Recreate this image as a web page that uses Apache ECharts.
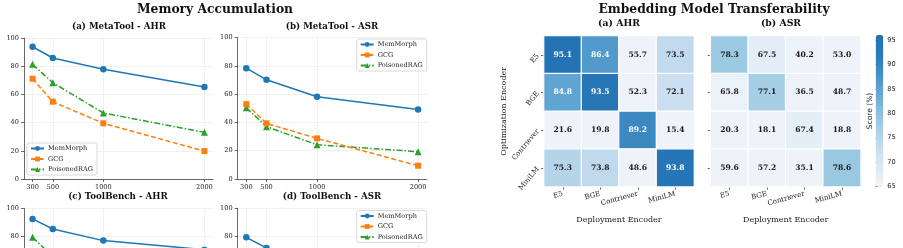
<!DOCTYPE html>
<html>
<head>
<meta charset="utf-8">
<script src="https://cdn.jsdelivr.net/npm/echarts@6/dist/echarts.min.js"></script>
<style>
  html, body { margin: 0; padding: 0; background: #fff; }
  #chart { width: 903px; height: 248px; }
</style>
</head>
<body>
<div id="chart"></div>
<script>
// memory size steps on the x axis
const memSizes = [300, 500, 1000, 2000];

// MetaTool - AHR
const metaAhrMem = [93.8, 85.8, 77.8, 65.2];
const metaAhrGcg = [71.1, 54.8, 39.5, 19.8];
const metaAhrRag = [81.3, 68.3, 46.8, 33.1];
// MetaTool - ASR
const metaAsrMem = [78.3, 70.1, 58.1, 49.2];
const metaAsrGcg = [52.9, 39.3, 28.7, 9.4];
const metaAsrRag = [50.3, 37.0, 24.2, 19.3];
// ToolBench - AHR (lower part is cut off in the picture)
const toolAhrMem = [92.5, 85.4, 77.2, 70.8];
const toolAhrGcg = [64.0, 50.0, 36.0, 20.0];
const toolAhrRag = [79.5, 66.0, 45.0, 31.0];
// ToolBench - ASR
const toolAsrMem = [79.5, 72.0, 61.0, 52.0];
const toolAsrGcg = [50.0, 38.0, 27.0, 10.0];
const toolAsrRag = [48.0, 35.0, 23.0, 18.0];

// heatmap encoders
const encoders = ["E5", "BGE", "Contriever", "MiniLM"];
// rows = optimization encoder, cols = deployment encoder
const ahrMatrix = [
  [95.1, 86.4, 55.7, 73.5],
  [84.8, 93.5, 52.3, 72.1],
  [21.6, 19.8, 89.2, 15.4],
  [75.3, 73.8, 48.6, 93.8]
];
const asrMatrix = [
  [78.3, 67.5, 40.2, 53.0],
  [65.8, 77.1, 36.5, 48.7],
  [20.3, 18.1, 67.4, 18.8],
  [59.6, 57.2, 35.1, 78.6]
];
const scoreMin = 65;
const scoreMax = 96;

const SERIF = "DejaVu Serif";
const SANS = "DejaVu Sans";
const TXT = "#222";

const chart = echarts.init(document.getElementById("chart"), null, { renderer: "canvas" });

//折线图的网格位置（下面两个子图超出画布，被截断）
const lineGrids = [
  { left: 24, top: 38, width: 189, height: 141 },
  { left: 237.7, top: 37.5, width: 189, height: 141.5 },
  { left: 24, top: 208.3, width: 189, height: 141.7 },
  { left: 237.7, top: 208.3, width: 189, height: 141.7 }
];
const lineData = [
  [metaAhrMem, metaAhrGcg, metaAhrRag],
  [metaAsrMem, metaAsrGcg, metaAsrRag],
  [toolAhrMem, toolAhrGcg, toolAhrRag],
  [toolAsrMem, toolAsrGcg, toolAsrRag]
];
const seriesNames = ["MemMorph", "GCG", "PoisonedRAG"];
const seriesColors = ["#1f77b4", "#ff7f0e", "#2ca02c"];
const seriesSymbols = ["circle", "rect", "triangle"];
const seriesSizes = [6.5, 6, 7];
const seriesDash = ["solid", [5, 2.5], [6, 2, 1.5, 2]];

const grids = [];
const xAxes = [];
const yAxes = [];
const series = [];

lineGrids.forEach(function(g, gi) {
  grids.push(Object.assign({ containLabel: false, outerBoundsMode: "none" }, g));
  xAxes.push({
    type: "value",
    gridIndex: gi,
    min: 215,
    max: 2085,
    axisLine: { show: true, onZero: false, lineStyle: { color: "#444", width: 0.8 } },
    axisTick: { show: true, length: 3, lineStyle: { color: "#444", width: 0.8 }, customValues: memSizes },
    axisLabel: {
      fontFamily: SERIF, fontSize: 6.6, color: TXT, margin: 5, customValues: memSizes,
      formatter: function(v) { return String(v); }
    },
    splitLine: { show: true, lineStyle: { color: "#ebebeb", width: 0.7 } }
  });
  yAxes.push({
    type: "value",
    gridIndex: gi,
    min: 0,
    max: 100,
    interval: 20,
    axisLine: { show: true, lineStyle: { color: "#444", width: 0.8 } },
    axisTick: { show: true, length: 3, lineStyle: { color: "#444", width: 0.8 } },
    axisLabel: { fontFamily: SERIF, fontSize: 6.6, color: TXT, margin: 5 },
    splitLine: { show: true, lineStyle: { color: "#ebebeb", width: 0.7 } }
  });
  lineData[gi].forEach(function(vals, si) {
    series.push({
      name: seriesNames[si],
      type: "line",
      xAxisIndex: gi,
      yAxisIndex: gi,
      data: memSizes.map(function(m, k) { return [m, vals[k]]; }),
      symbol: seriesSymbols[si],
      symbolSize: seriesSizes[si],
      showAllSymbol: true,
      color: seriesColors[si],
      itemStyle: { color: seriesColors[si] },
      lineStyle: { color: seriesColors[si], width: 1.5, type: seriesDash[si] },
      z: 3 - si,
      animation: false
    });
  });
});

//热力图
const heatGrids = [
  { left: 544, top: 36, width: 150, height: 150.7 },
  { left: 710.7, top: 36, width: 150, height: 150.7 }
];
const heatMatrices = [ahrMatrix, asrMatrix];
const heatSeriesIdx = [];

heatGrids.forEach(function(g, hi) {
  const gi = grids.length;
  grids.push(Object.assign({ containLabel: false, outerBoundsMode: "none" }, g));
  xAxes.push({
    type: "category",
    gridIndex: gi,
    data: encoders,
    name: "Deployment Encoder",
    nameLocation: "middle",
    nameGap: 29,
    nameTextStyle: { fontFamily: SERIF, fontSize: 8, color: TXT },
    axisLine: { show: false },
    axisTick: { show: true, alignWithLabel: true, length: 3, lineStyle: { color: "#444", width: 0.8 } },
    axisLabel: { fontFamily: SERIF, fontSize: 7, color: TXT, rotate: 15, margin: 7 },
    splitLine: { show: false },
    splitArea: { show: false }
  });
  yAxes.push({
    type: "category",
    gridIndex: gi,
    data: encoders,
    inverse: true,
    name: hi === 0 ? "Optimization Encoder" : "",
    nameLocation: "middle",
    nameGap: 36,
    nameRotate: 90,
    nameTextStyle: { fontFamily: SERIF, fontSize: 8, color: TXT },
    axisLine: { show: false },
    axisTick: { show: true, alignWithLabel: true, length: 3, lineStyle: { color: "#444", width: 0.8 } },
    axisLabel: { show: hi === 0, fontFamily: SERIF, fontSize: 7, color: TXT, rotate: 50, margin: 6 },
    splitLine: { show: false },
    splitArea: { show: false }
  });
  const cells = [];
  heatMatrices[hi].forEach(function(row, r) {
    row.forEach(function(v, c) {
      cells.push({
        value: [c, r, v],
        label: { color: v > 80 ? "#fff" : "#1a1a1a" }
      });
    });
  });
  heatSeriesIdx.push(series.length);
  series.push({
    type: "heatmap",
    xAxisIndex: gi,
    yAxisIndex: gi,
    data: cells,
    itemStyle: { borderColor: "#fff", borderWidth: 1.2 },
    label: {
      show: true,
      fontFamily: SERIF,
      fontWeight: "bold",
      fontSize: 7.6,
      formatter: function(p) { return p.value[2].toFixed(1); }
    },
    emphasis: { disabled: true },
    animation: false
  });
});

//色条刻度
const cbGridIdx = grids.length;
grids.push({ left: 875.7, top: 35, width: 7.6, height: 151.7, outerBoundsMode: "none" });
xAxes.push({ type: "value", gridIndex: cbGridIdx, show: false, min: 0, max: 1 });
yAxes.push({
  type: "value",
  gridIndex: cbGridIdx,
  position: "right",
  min: scoreMin,
  max: scoreMax,
  interval: 5,
  axisLine: { show: false },
  axisTick: { show: true, length: 2.5, lineStyle: { color: "#444", width: 0.7 } },
  axisLabel: { fontFamily: SANS, fontSize: 6.6, color: TXT, margin: 4, showMaxLabel: false },
  splitLine: { show: false }
});

const titleBase = { padding: 0, textAlign: "center" };
const titles = [
  { text: "Memory Accumulation", left: 215, top: 4, fs: 12.3 },
  { text: "Embedding Model Transferability", left: 714, top: 4, fs: 12.3 },
  { text: "(a) MetaTool - AHR", left: 119, top: 22, fs: 8.7 },
  { text: "(b) MetaTool - ASR", left: 332, top: 22, fs: 8.7 },
  { text: "(c) ToolBench - AHR", left: 118, top: 192.5, fs: 8.7 },
  { text: "(d) ToolBench - ASR", left: 332, top: 192.5, fs: 8.7 },
  { text: "(a) AHR", left: 619, top: 19.5, fs: 9.3 },
  { text: "(b) ASR", left: 781, top: 19.5, fs: 9.3 }
].map(function(t) {
  return Object.assign({}, titleBase, {
    text: t.text,
    left: t.left,
    top: t.top,
    textStyle: { fontFamily: SERIF, fontWeight: "bold", fontSize: t.fs, color: "#111" }
  });
});

const legendBase = {
  data: seriesNames,
  orient: "vertical",
  itemWidth: 13,
  itemHeight: 6,
  itemGap: 3.5,
  padding: [2, 4, 2, 3],
  backgroundColor: "rgba(255,255,255,0.85)",
  borderColor: "#d0d0d0",
  borderWidth: 0.8,
  borderRadius: 2,
  textStyle: { fontFamily: SERIF, fontSize: 6.6, color: TXT, padding: [0, 0, 0, -1] },
  selectedMode: false
};
const legends = [
  Object.assign({}, legendBase, { left: 27, top: 143 }),
  Object.assign({}, legendBase, { left: 356.7, top: 39 }),
  Object.assign({}, legendBase, { left: 27, top: 313 }),
  Object.assign({}, legendBase, { left: 356.7, top: 210.5 })
];

const option = {
  backgroundColor: "#fff",
  animation: false,
  title: titles,
  legend: legends,
  grid: grids,
  xAxis: xAxes,
  yAxis: yAxes,
  visualMap: {
    type: "continuous",
    min: scoreMin,
    max: scoreMax,
    seriesIndex: heatSeriesIdx,
    calculable: false,
    orient: "vertical",
    left: 875.7,
    top: 35,
    itemWidth: 7.6,
    itemHeight: 151.7,
    padding: 0,
    text: null,
    hoverLink: false,
    inRange: {
      color: ["#eef3f9", "#dbe9f5", "#c0d9ed", "#9ccae2", "#72b0d8", "#4b96c9", "#2b7bba", "#2271b4"]
    }
  },
  graphic: [
    {
      type: "text",
      x: 870,
      y: 111,
      rotation: Math.PI / 2,
      style: {
        text: "Score (%)",
        fontFamily: SANS,
        fontSize: 7.5,
        fill: TXT,
        align: "center",
        verticalAlign: "middle"
      }
    }
  ],
  series: series
};

chart.setOption(option);
</script>
</body>
</html>
